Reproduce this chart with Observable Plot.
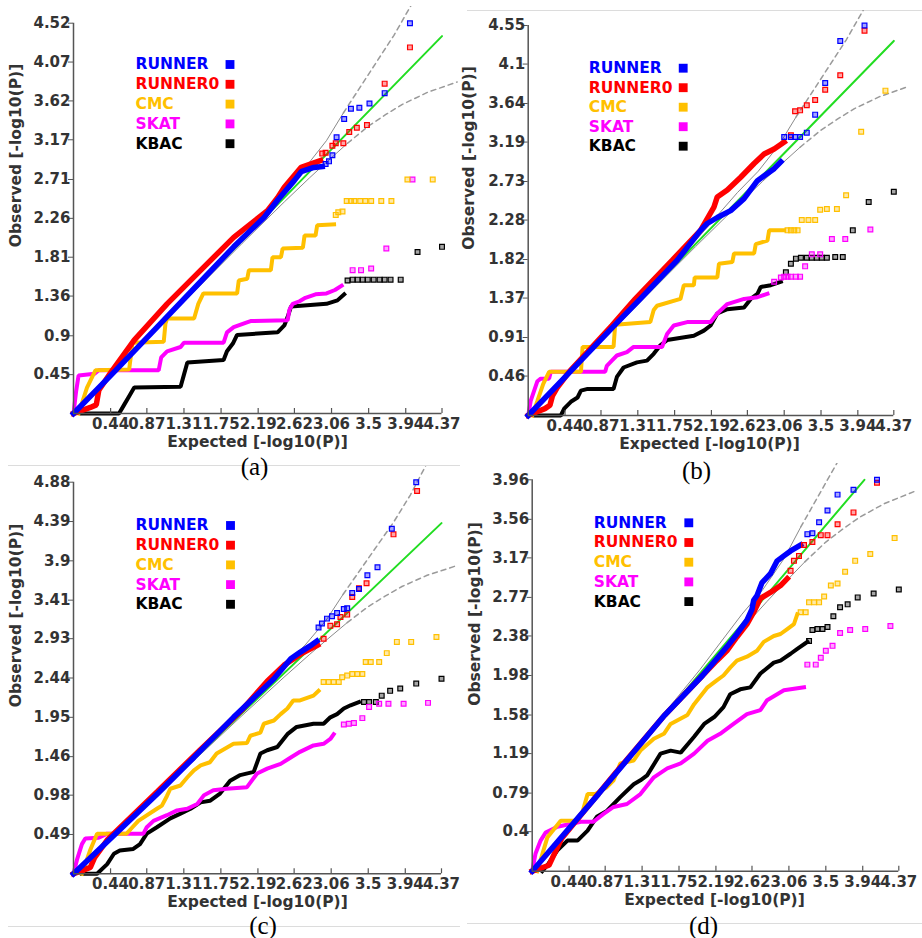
<!DOCTYPE html>
<html>
<head>
<meta charset="utf-8">
<script src="https://cdn.jsdelivr.net/npm/d3@7"></script>
<script src="https://cdn.jsdelivr.net/npm/@observablehq/plot@0.6"></script>
<style>
  body { margin: 0; background: #fff; }
  #root { position: relative; width: 922px; height: 938px; overflow: hidden; background: #fff; }
  .panel { position: absolute; }
  .hl { position: absolute; height: 1px; background: #dcdcdc; }
</style>
</head>
<body>
<div id="root"></div>
<script>
// ---------------- shared values ----------------
const X_MAX = 4.37;
const X_TICKS = [0.44, 0.87, 1.31, 1.75, 2.19, 2.62, 3.06, 3.5, 3.94, 4.37];
const LEGEND = ["RUNNER", "RUNNER0", "CMC", "SKAT", "KBAC"];
const DRAW_ORDER = ["KBAC", "SKAT", "CMC", "RUNNER0", "RUNNER"];
const COLORS = { RUNNER: "#0000ff", RUNNER0: "#ff0000", CMC: "#ffc000", SKAT: "#ff00ff", KBAC: "#000000" };

// confidence band
const BAND_UPPER_SOLID = [[0.5,0.5],[1.5,1.52],[2,2.04],[2.5,2.6],[2.75,2.85],[3.0,3.16],[3.2,3.48]];
const BAND_UPPER_DASHED = [[3.2,3.48],[3.4,3.78],[3.6,4.08],[3.8,4.38],[4.0,4.72],[4.2,5.12]];
const BAND_LOWER_SOLID = [[0.5,0.5],[1.5,1.48],[2,1.97],[2.5,2.45],[2.8,2.73],[3.0,2.91],[3.25,3.13]];
const BAND_LOWER_DASHED = [[3.25,3.13],[3.5,3.33],[3.7,3.46],[3.9,3.58],[4.2,3.72],[4.55,3.84]];

// ---------------- panel (a) ----------------
const A_Y_TICKS = [0.45, 0.9, 1.36, 1.81, 2.26, 2.71, 3.17, 3.62, 4.07, 4.52];
const a_RUNNER_line = [[0,0],[0.5,0.5],[1,1.01],[1.5,1.52],[1.9,1.93],[2.26,2.27],[2.42,2.47],[2.62,2.7],[2.7,2.8],[2.85,2.85],[2.95,2.86]];
const a_RUNNER_pts = [[2.99,2.89],[3.03,2.92],[3.07,2.99],[3.12,3.2],[3.21,3.41],[3.29,3.53],[3.39,3.54],[3.51,3.59],[3.69,3.71],[3.99,4.52]];
const a_RUNNER0_line = [[0,0],[0.2,0.07],[0.27,0.1],[0.3,0.27],[0.44,0.47],[0.72,0.85],[1.11,1.27],[1.51,1.66],[1.9,2.04],[2.3,2.35],[2.42,2.5],[2.5,2.62],[2.7,2.85],[2.93,2.93]];
const a_RUNNER0_pts = [[2.95,3.01],[2.99,3.02],[3.07,3.1],[3.11,3.13],[3.2,3.13],[3.27,3.26],[3.36,3.31],[3.48,3.34],[3.69,3.82],[3.99,4.24]];
const a_CMC_line = [[0.06,0],[0.16,0.3],[0.26,0.5],[0.66,0.51],[0.7,0.82],[1.07,0.83],[1.09,1.04],[1.11,1.1],[1.43,1.1],[1.48,1.27],[1.54,1.39],[1.94,1.39],[1.96,1.54],[2.06,1.56],[2.08,1.66],[2.34,1.66],[2.36,1.81],[2.46,1.81],[2.48,1.91],[2.72,1.92],[2.74,2.06],[2.87,2.06],[2.89,2.18],[3.09,2.19]];
const a_CMC_pts = [[3.11,2.3],[3.14,2.33],[3.19,2.34],[3.24,2.46],[3.29,2.46],[3.33,2.46],[3.4,2.46],[3.46,2.46],[3.53,2.46],[3.65,2.46],[3.77,2.46],[3.96,2.71],[4.26,2.71]];
const a_SKAT_line = [[0,0],[0.03,0.25],[0.06,0.44],[0.25,0.46],[0.3,0.5],[1.01,0.5],[1.04,0.65],[1.11,0.72],[1.27,0.77],[1.31,0.82],[1.78,0.82],[1.82,0.94],[1.9,1.0],[2.04,1.05],[2.1,1.07],[2.54,1.08],[2.56,1.2],[2.6,1.27],[2.68,1.3],[2.75,1.34],[2.87,1.38],[3.0,1.39],[3.1,1.43],[3.18,1.48]];
const a_SKAT_pts = [[3.31,1.66],[3.41,1.66],[3.53,1.68],[3.71,1.91],[4.02,2.71]];
const a_KBAC_line = [[0.1,0],[0.54,0],[0.6,0.1],[0.66,0.2],[0.72,0.3],[1.27,0.31],[1.31,0.45],[1.35,0.59],[1.78,0.62],[1.82,0.72],[1.89,0.81],[1.94,0.91],[2.42,0.94],[2.5,1.02],[2.54,1.12],[2.58,1.24],[3.0,1.27],[3.13,1.31],[3.21,1.38]];
const a_KBAC_pts = [[3.25,1.54],[3.31,1.55],[3.37,1.55],[3.43,1.55],[3.49,1.55],[3.56,1.55],[3.63,1.55],[3.69,1.55],[3.76,1.55],[3.88,1.55],[4.08,1.87],[4.37,1.93]];

// ---------------- panel (b) ----------------
const B_Y_TICKS = [0.46, 0.91, 1.37, 1.82, 2.28, 2.73, 3.19, 3.64, 4.1, 4.55];
const b_RUNNER_line = [[0,0],[0.5,0.51],[1,1.02],[1.34,1.36],[1.78,1.81],[2.06,2.16],[2.14,2.24],[2.26,2.31],[2.42,2.39],[2.58,2.53],[2.74,2.74],[2.94,2.88],[3.02,2.96]];
const b_RUNNER_pts = [[3.06,3.25],[3.14,3.25],[3.19,3.25],[3.25,3.25],[3.33,3.3],[3.43,3.51],[3.55,3.88],[3.73,4.37],[4.02,4.55]];
const b_RUNNER0_line = [[0,0],[0.1,0.04],[0.2,0.08],[0.26,0.12],[0.29,0.23],[0.35,0.33],[0.5,0.52],[1,1.05],[1.28,1.36],[1.72,1.81],[2.06,2.16],[2.22,2.43],[2.26,2.55],[2.38,2.63],[2.54,2.78],[2.7,2.94],[2.82,3.05],[2.94,3.11],[3.06,3.19]];
const b_RUNNER0_pts = [[3.14,3.27],[3.19,3.55],[3.25,3.56],[3.33,3.62],[3.43,3.68],[3.55,3.8],[3.73,3.97],[4.02,4.49]];
const b_CMC_line = [[0.05,0],[0.11,0.17],[0.18,0.37],[0.25,0.51],[0.63,0.51],[0.65,0.8],[1.02,0.8],[1.04,1.06],[1.46,1.09],[1.5,1.23],[1.54,1.28],[1.82,1.36],[1.86,1.52],[1.98,1.52],[1.99,1.61],[2.26,1.61],[2.28,1.77],[2.44,1.79],[2.46,1.89],[2.7,1.89],[2.72,2.0],[2.86,2.04],[2.88,2.16],[3.06,2.16]];
const b_CMC_pts = [[3.1,2.16],[3.14,2.16],[3.18,2.16],[3.22,2.16],[3.27,2.28],[3.35,2.28],[3.43,2.28],[3.49,2.4],[3.57,2.41],[3.69,2.41],[3.8,2.57],[3.98,3.31],[4.27,3.79]];
const b_SKAT_line = [[0,0],[0.03,0.17],[0.11,0.4],[0.15,0.43],[0.25,0.43],[0.27,0.51],[0.92,0.51],[0.94,0.58],[1.0,0.64],[1.06,0.7],[1.18,0.74],[1.26,0.8],[1.6,0.8],[1.66,0.95],[1.74,1.05],[1.9,1.09],[2.18,1.09],[2.26,1.19],[2.38,1.3],[2.58,1.36],[2.74,1.38],[2.86,1.42]];
const b_SKAT_pts = [[2.94,1.56],[3.02,1.61],[3.06,1.62],[3.1,1.62],[3.14,1.62],[3.2,1.62],[3.25,1.62],[3.31,1.74],[3.39,1.88],[3.49,1.88],[3.63,2.06],[3.79,2.06],[4.09,2.17]];
const b_KBAC_line = [[0.08,0],[0.39,0],[0.43,0.08],[0.51,0.16],[0.59,0.21],[0.63,0.29],[0.71,0.31],[1.02,0.31],[1.06,0.45],[1.14,0.56],[1.3,0.62],[1.42,0.64],[1.5,0.72],[1.58,0.82],[1.66,0.88],[1.98,0.93],[2.1,0.99],[2.18,1.05],[2.26,1.19],[2.38,1.24],[2.58,1.26],[2.66,1.36],[2.74,1.42],[2.78,1.5],[2.9,1.52],[3.02,1.56]];
const b_KBAC_pts = [[3.08,1.67],[3.14,1.77],[3.2,1.83],[3.26,1.84],[3.33,1.84],[3.39,1.84],[3.45,1.84],[3.51,1.84],[3.57,1.84],[3.67,1.85],[3.76,1.85],[3.88,2.16],[4.07,2.49],[4.37,2.61]];

// ---------------- panel (c) ----------------
const C_Y_TICKS = [0.49, 0.98, 1.46, 1.95, 2.44, 2.93, 3.41, 3.9, 4.39, 4.88];
const c_RUNNER_line = [[0,0],[0.5,0.5],[1,1.0],[1.43,1.45],[1.9,1.95],[2.38,2.43],[2.58,2.68],[2.69,2.76],[2.81,2.84],[2.89,2.9]];
const c_RUNNER_pts = [[2.91,3.07],[2.95,3.12],[3.01,3.18],[3.07,3.21],[3.13,3.25],[3.21,3.3],[3.25,3.31],[3.31,3.5],[3.39,3.55],[3.49,3.72],[3.61,3.82],[3.78,4.3],[4.07,4.88]];
const c_RUNNER0_line = [[0,0],[0.1,0.04],[0.2,0.08],[0.25,0.2],[0.4,0.42],[1,1.03],[1.5,1.54],[2,2.04],[2.3,2.4],[2.5,2.6],[2.7,2.74],[2.9,2.85]];
const c_RUNNER0_pts = [[2.97,2.93],[3.05,3.09],[3.13,3.11],[3.17,3.2],[3.25,3.23],[3.31,3.45],[3.39,3.56],[3.48,3.62],[3.8,4.23],[4.08,4.77]];
const c_CMC_line = [[0.1,0],[0.2,0.3],[0.28,0.5],[0.63,0.5],[0.7,0.58],[0.77,0.66],[0.99,0.81],[1.05,0.85],[1.11,0.97],[1.15,1.06],[1.27,1.1],[1.35,1.2],[1.43,1.29],[1.51,1.35],[1.62,1.39],[1.7,1.5],[1.9,1.62],[2.06,1.63],[2.1,1.72],[2.22,1.76],[2.26,1.87],[2.38,1.91],[2.46,1.99],[2.54,2.06],[2.61,2.16],[2.69,2.16],[2.85,2.22],[2.91,2.28]];
const c_CMC_pts = [[2.97,2.39],[3.03,2.39],[3.09,2.39],[3.15,2.39],[3.19,2.45],[3.25,2.47],[3.31,2.49],[3.37,2.49],[3.43,2.49],[3.47,2.64],[3.53,2.64],[3.63,2.64],[3.72,2.75],[3.84,2.89],[4.01,2.89],[4.31,2.95]];
const c_SKAT_line = [[0,0],[0.04,0.17],[0.1,0.37],[0.14,0.44],[0.3,0.45],[0.4,0.5],[0.83,0.5],[0.87,0.58],[0.95,0.66],[1.11,0.73],[1.23,0.79],[1.35,0.81],[1.47,0.87],[1.55,0.98],[1.66,1.04],[1.82,1.06],[2.06,1.08],[2.18,1.25],[2.3,1.31],[2.46,1.37],[2.58,1.45],[2.69,1.52],[2.85,1.6],[2.97,1.62],[3.05,1.68],[3.09,1.74]];
const c_SKAT_pts = [[3.21,1.86],[3.27,1.87],[3.33,1.88],[3.43,1.94],[3.51,2.08],[3.63,2.12],[3.74,2.12],[3.92,2.12],[4.21,2.13]];
const c_KBAC_line = [[0.1,0],[0.28,0],[0.4,0.12],[0.48,0.25],[0.55,0.29],[0.71,0.31],[0.79,0.37],[0.87,0.5],[0.99,0.58],[1.15,0.69],[1.27,0.75],[1.39,0.81],[1.51,0.89],[1.62,0.91],[1.74,1.0],[1.86,1.16],[1.98,1.23],[2.14,1.27],[2.22,1.5],[2.3,1.54],[2.42,1.58],[2.54,1.74],[2.65,1.83],[2.85,1.87],[2.97,1.87],[3.05,1.95],[3.13,1.99],[3.21,2.06],[3.29,2.1],[3.39,2.14]];
const c_KBAC_pts = [[3.45,2.14],[3.51,2.14],[3.59,2.14],[3.66,2.22],[3.76,2.28],[3.88,2.31],[4.07,2.37],[4.37,2.43]];

// ---------------- panel (d) ----------------
const D_Y_TICKS = [0.4, 0.79, 1.19, 1.58, 1.98, 2.38, 2.77, 3.17, 3.56, 3.96];
const d_RUNNER_line = [[0,0],[0.79,0.78],[1.58,1.58],[2.03,1.98],[2.2,2.15],[2.32,2.27],[2.44,2.4],[2.56,2.54],[2.62,2.65],[2.64,2.74],[2.68,2.79],[2.74,2.92],[2.84,3.01],[2.92,3.14],[3.0,3.19],[3.08,3.24],[3.2,3.3]];
const d_RUNNER_pts = [[3.28,3.41],[3.34,3.42],[3.42,3.53],[3.52,3.65],[3.64,3.81],[3.83,3.86],[4.11,3.96]];
const d_RUNNER0_line = [[0,0],[0.1,0.03],[0.2,0.06],[0.25,0.15],[0.35,0.33],[1,1.0],[1.58,1.58],[2.03,1.98],[2.2,2.13],[2.32,2.23],[2.44,2.37],[2.56,2.5],[2.64,2.62],[2.72,2.76],[2.84,2.82],[2.96,2.89],[3.04,2.96]];
const d_RUNNER0_pts = [[3.08,3.04],[3.12,3.14],[3.18,3.19],[3.24,3.3],[3.34,3.33],[3.44,3.4],[3.52,3.4],[3.64,3.51],[3.83,3.63],[4.11,3.93]];
const d_CMC_line = [[0.06,0],[0.18,0.34],[0.34,0.51],[0.54,0.51],[0.6,0.6],[0.66,0.78],[0.75,0.78],[0.89,0.85],[0.97,0.92],[1.05,1.09],[1.21,1.12],[1.29,1.22],[1.45,1.34],[1.57,1.39],[1.65,1.49],[1.85,1.58],[1.93,1.69],[2.09,1.86],[2.2,1.93],[2.28,1.98],[2.36,2.06],[2.44,2.13],[2.56,2.17],[2.68,2.23],[2.76,2.32],[2.88,2.38],[2.96,2.4],[3.04,2.45],[3.12,2.5],[3.16,2.6]];
const d_CMC_pts = [[3.2,2.62],[3.26,2.62],[3.3,2.72],[3.36,2.72],[3.42,2.72],[3.48,2.78],[3.56,2.89],[3.64,2.91],[3.73,3.03],[3.85,3.14],[4.03,3.21],[4.32,3.37]];
const d_SKAT_line = [[0,0],[0.04,0.18],[0.1,0.31],[0.16,0.39],[0.3,0.45],[0.58,0.5],[0.73,0.5],[0.85,0.58],[0.97,0.65],[1.13,0.68],[1.29,0.78],[1.45,0.95],[1.61,1.04],[1.77,1.09],[1.93,1.19],[2.09,1.32],[2.24,1.39],[2.4,1.49],[2.56,1.59],[2.72,1.63],[2.8,1.73],[2.92,1.79],[3.0,1.83],[3.24,1.86]];
const d_SKAT_pts = [[3.28,2.09],[3.38,2.09],[3.44,2.16],[3.5,2.23],[3.58,2.28],[3.67,2.41],[3.79,2.44],[3.97,2.45],[4.27,2.48]];
const d_KBAC_line = [[0.12,0],[0.18,0.06],[0.3,0.21],[0.42,0.31],[0.54,0.31],[0.66,0.41],[0.77,0.55],[0.89,0.61],[1.05,0.75],[1.21,0.88],[1.29,0.92],[1.37,0.97],[1.53,1.19],[1.65,1.22],[1.77,1.2],[1.93,1.36],[2.05,1.49],[2.17,1.56],[2.28,1.66],[2.36,1.79],[2.48,1.84],[2.6,1.86],[2.72,2.0],[2.88,2.11],[2.96,2.13],[3.08,2.2],[3.16,2.25],[3.28,2.32]];
const d_KBAC_pts = [[3.3,2.33],[3.34,2.44],[3.4,2.45],[3.46,2.45],[3.52,2.47],[3.59,2.58],[3.67,2.67],[3.76,2.7],[3.88,2.77],[4.07,2.81],[4.37,2.85]];

// ---------------- texts ----------------
const Y_TITLE = "Observed [-log10(P)]";
const X_TITLE = "Expected [-log10(P)]";

// ---------------- layout of the four panels ----------------
const PANELS = [
  { sub: "(a)", left: 0, top: 6, width: 460, height: 480, mL: 73, mR: 18.5, mT: 16.7, mB: 73, yTicks: A_Y_TICKS,
    lines: {RUNNER: a_RUNNER_line, RUNNER0: a_RUNNER0_line, CMC: a_CMC_line, SKAT: a_SKAT_line, KBAC: a_KBAC_line},
    pts: {RUNNER: a_RUNNER_pts, RUNNER0: a_RUNNER0_pts, CMC: a_CMC_pts, SKAT: a_SKAT_pts, KBAC: a_KBAC_pts},
    ann: {lx: 62, ly: 41.3, ls: 19.8, sx: 156.5, ytx: -57.5, yty: 132.3, xtx: 184, xty: 418.8, sbx: 181, sby: 443.3} },
  { sub: "(b)", left: 460, top: 10, width: 462, height: 476, mL: 67.7, mR: 28.7, mT: 15, mB: 71, yTicks: B_Y_TICKS,
    lines: {RUNNER: b_RUNNER_line, RUNNER0: b_RUNNER0_line, CMC: b_CMC_line, SKAT: b_SKAT_line, KBAC: b_KBAC_line},
    pts: {RUNNER: b_RUNNER_pts, RUNNER0: b_RUNNER0_pts, CMC: b_CMC_pts, SKAT: b_SKAT_pts, KBAC: b_KBAC_pts},
    ann: {lx: 60.6, ly: 42.7, ls: 19.5, sx: 155, ytx: -59.2, yty: 132.5, xtx: 181.3, xty: 418.5, sbx: 168.3, sby: 445.5} },
  { sub: "(c)", left: 0, top: 466, width: 460, height: 472, mL: 73, mR: 19, mT: 15.7, mB: 64.7, yTicks: C_Y_TICKS,
    lines: {RUNNER: c_RUNNER_line, RUNNER0: c_RUNNER0_line, CMC: c_CMC_line, SKAT: c_SKAT_line, KBAC: c_KBAC_line},
    pts: {RUNNER: c_RUNNER_pts, RUNNER0: c_RUNNER0_pts, CMC: c_CMC_pts, SKAT: c_SKAT_pts, KBAC: c_KBAC_pts},
    ann: {lx: 62, ly: 43.3, ls: 19.7, sx: 157, ytx: -57.5, yty: 133.3, xtx: 184, xty: 419.8, sbx: 189.5, sby: 444} },
  { sub: "(d)", left: 460, top: 463, width: 462, height: 475, mL: 71.7, mR: 23.7, mT: 16.3, mB: 67.3, yTicks: D_Y_TICKS,
    lines: {RUNNER: d_RUNNER_line, RUNNER0: d_RUNNER0_line, CMC: d_CMC_line, SKAT: d_SKAT_line, KBAC: d_KBAC_line},
    pts: {RUNNER: d_RUNNER_pts, RUNNER0: d_RUNNER0_pts, CMC: d_CMC_pts, SKAT: d_SKAT_pts, KBAC: d_KBAC_pts},
    ann: {lx: 61.6, ly: 43, ls: 19.7, sx: 156.6, ytx: -57.2, yty: 134.2, xtx: 182.3, xty: 420.7, sbx: 171.3, sby: 446} }
];

// light frame lines of the original figure
const FRAME_LINES = [
  {x: 8, y: 465, w: 452}, {x: 8, y: 926, w: 452},
  {x: 467, y: 10, w: 455}, {x: 467, y: 923, w: 455}
];

const root = document.getElementById("root");
for (const f of FRAME_LINES) {
  const d = document.createElement("div");
  d.className = "hl";
  Object.assign(d.style, {left: f.x + "px", top: f.y + "px", width: f.w + "px"});
  root.appendChild(d);
}

const XY = {x: d => d[0], y: d => d[1]};

function makePanel(p) {
  const ymax = p.yTicks[p.yTicks.length - 1];
  const innerH = p.height - p.mT - p.mB;
  const gmax = Math.min(X_MAX, ymax);
  const a = p.ann;
  const marks = [
    Plot.line(BAND_UPPER_SOLID, {...XY, stroke: "#8a8a8a", strokeWidth: 1}),
    Plot.line(BAND_LOWER_SOLID, {...XY, stroke: "#8a8a8a", strokeWidth: 1}),
    Plot.line(BAND_UPPER_DASHED, {...XY, stroke: "#9a9a9a", strokeWidth: 1.5, strokeDasharray: "5,4"}),
    Plot.line(BAND_LOWER_DASHED, {...XY, stroke: "#9a9a9a", strokeWidth: 1.5, strokeDasharray: "5,4"}),
    Plot.line([[0, 0], [gmax, gmax]], {...XY, stroke: "#22dd22", strokeWidth: 2})
  ];
  for (const s of DRAW_ORDER) {
    marks.push(Plot.line(p.lines[s], {...XY, stroke: COLORS[s],
      strokeWidth: s.startsWith("RUNNER") ? 5.5 : 4, strokeLinejoin: "miter", strokeLinecap: "square"}));
  }
  for (const s of DRAW_ORDER) {
    marks.push(Plot.dot(p.pts[s], {...XY, symbol: "square", r: 2.7, stroke: COLORS[s],
      strokeWidth: 1.2, fill: COLORS[s], fillOpacity: 0.35}));
  }
  marks.push(
    Plot.ruleX([0], {stroke: "#555", strokeWidth: 1.5}),
    Plot.ruleY([0], {stroke: "#555", strokeWidth: 1.5}),
    Plot.tickX(X_TICKS, {x: d => d, insetTop: innerH - 5, stroke: "#555", strokeWidth: 1.2}),
    Plot.axisX(X_TICKS, {tickSize: 0, tickPadding: 5, tickFormat: d => String(d), label: null, fill: "#333"}),
    Plot.axisY(p.yTicks, {tickSize: 5, tickPadding: -2, tickFormat: d => String(d), label: null, stroke: "#555", fill: "#333"})
  );
  LEGEND.forEach((s, i) => {
    marks.push(Plot.text([s], {frameAnchor: "top-left", text: d => d, dx: a.lx, dy: a.ly + i * a.ls,
      textAnchor: "start", lineAnchor: "middle", fill: COLORS[s], fontSize: 15.5, fontWeight: "bold"}));
    marks.push(Plot.dot([s], {frameAnchor: "top-left", dx: a.sx, dy: a.ly + i * a.ls,
      symbol: "square", r: 5, fill: COLORS[s], stroke: "none"}));
  });
  marks.push(
    Plot.text([Y_TITLE], {frameAnchor: "top-left", text: d => d, dx: a.ytx, dy: a.yty, rotate: -90,
      textAnchor: "middle", lineAnchor: "middle", fill: "#333", fontSize: 15.5, fontWeight: "bold"}),
    Plot.text([X_TITLE], {frameAnchor: "top-left", text: d => d, dx: a.xtx, dy: a.xty,
      textAnchor: "middle", lineAnchor: "middle", fill: "#333", fontSize: 15.5, fontWeight: "bold"}),
    Plot.text([p.sub], {frameAnchor: "top-left", text: d => d, dx: a.sbx, dy: a.sby,
      textAnchor: "middle", lineAnchor: "middle", fill: "#000", fontSize: 25, fontWeight: "normal",
      fontFamily: "Liberation Serif, Times New Roman, serif"})
  );
  const svg = Plot.plot({
    width: p.width, height: p.height,
    marginLeft: p.mL, marginRight: p.mR, marginTop: p.mT, marginBottom: p.mB,
    x: {domain: [0, X_MAX]},
    y: {domain: [0, ymax]},
    style: {fontFamily: "DejaVu Sans, sans-serif", fontSize: "15px", fontWeight: "bold",
            color: "#333", background: "transparent", overflow: "hidden"},
    marks
  });
  const wrap = document.createElement("div");
  wrap.className = "panel";
  Object.assign(wrap.style, {left: p.left + "px", top: p.top + "px", width: p.width + "px", height: p.height + "px"});
  wrap.appendChild(svg);
  root.appendChild(wrap);
}

PANELS.forEach(makePanel);
</script>
</body>
</html>
